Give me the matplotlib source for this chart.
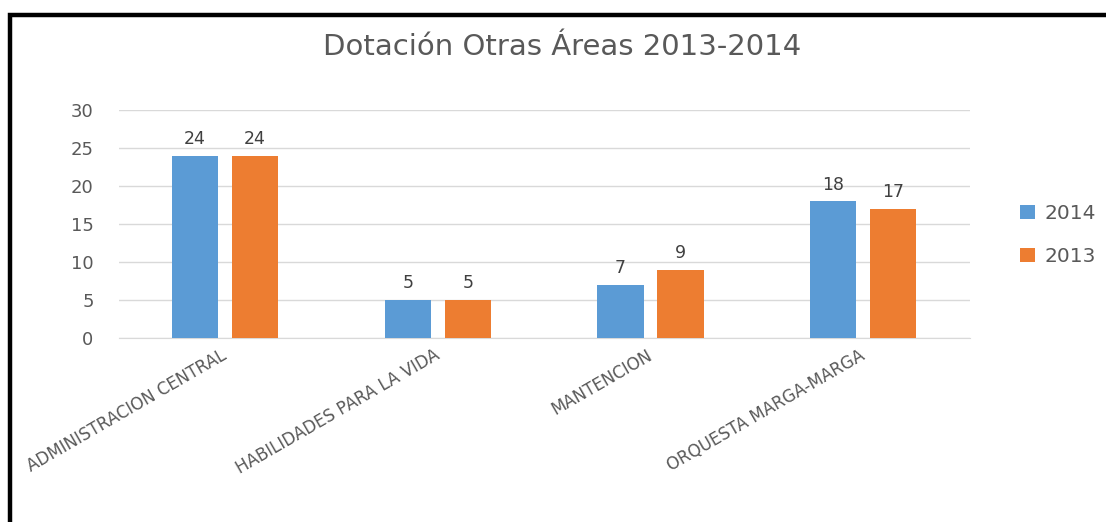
import matplotlib
matplotlib.use("Agg")
import matplotlib.pyplot as plt
from matplotlib.patches import Rectangle
import numpy as np

categories = ["ADMINISTRACION CENTRAL", "HABILIDADES PARA LA VIDA",
              "MANTENCION", "ORQUESTA MARGA-MARGA"]
series_names = ["2014", "2013"]
values_2014 = [24, 5, 7, 18]
values_2013 = [24, 5, 9, 17]
y_ticks = [0, 5, 10, 15, 20, 25, 30]

blue = "#5b9bd5"
orange = "#ed7d31"
text_gray = "#595959"

plt.rcParams["font.family"] = ["DejaVu Sans"]

fig = plt.figure(figsize=(11.06, 5.22), dpi=100)
fig.patch.set_facecolor("white")

# black frame, open towards the right and bottom edges
frame = Rectangle((10 / 1106, -0.1), 1.2, (522 - 15) / 522 + 0.1,
                  transform=fig.transFigure, fill=False,
                  edgecolor="black", linewidth=3.2, zorder=10)
fig.add_artist(frame)

ax = fig.add_axes([118.6 / 1106, 1 - 338 / 522, 851 / 1106, (338 - 110) / 522])
x = np.arange(len(categories))
w = 0.217
off = 0.141
b1 = ax.bar(x - off, values_2014, w, color=blue, label=series_names[0], zorder=3)
b2 = ax.bar(x + off, values_2013, w, color=orange, label=series_names[1], zorder=3)

for bars, vals in ((b1, values_2014), (b2, values_2013)):
    for rect, v in zip(bars, vals):
        ax.text(rect.get_x() + rect.get_width() / 2, v + 1.0, str(v),
                ha="center", va="bottom", fontsize=12.5, color="#404040")

ax.set_xlim(-0.5, len(categories) - 0.5)
ax.set_ylim(0, 30)
ax.set_yticks(y_ticks)
ax.set_yticklabels([str(t) for t in y_ticks], fontsize=13, color=text_gray)
ax.yaxis.grid(True, color="#d9d9d9", linewidth=1, zorder=0)
ax.set_axisbelow(True)
for s in ("top", "right", "left"):
    ax.spines[s].set_visible(False)
ax.spines["bottom"].set_color("#d9d9d9")
ax.tick_params(axis="y", length=0, pad=18)
ax.tick_params(axis="x", length=0, pad=6)

ax.set_xticks(x - 0.02)
ax.set_xticklabels(categories, rotation=30, ha="right", rotation_mode="anchor",
                   fontsize=12, color=text_gray)

fig.text(0.508, 1 - 47 / 522, "Dotación Otras Áreas 2013-2014", ha="center",
         va="center", fontsize=21, color=text_gray)

leg = fig.legend(handles=[b1, b2], labels=series_names, loc="center left",
                 bbox_to_anchor=(1002 / 1106, 1 - 235 / 522), frameon=False,
                 fontsize=14.5, labelcolor=text_gray, handlelength=0.75,
                 handleheight=0.75, handletextpad=0.45, labelspacing=1.2)

fig.savefig("out.png", dpi=100, facecolor="white")
